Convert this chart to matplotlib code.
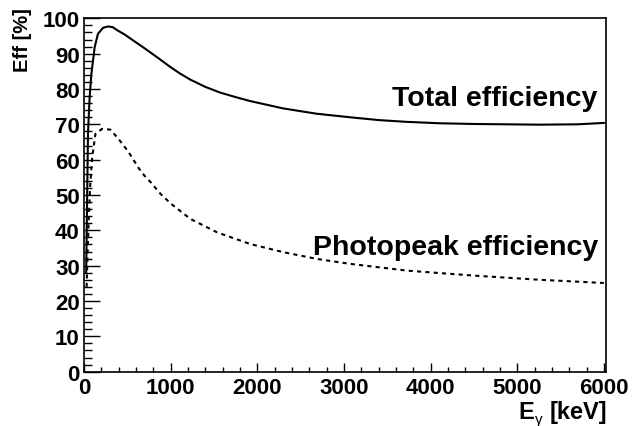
import numpy as np
import matplotlib
matplotlib.use("Agg")
import matplotlib.pyplot as plt
from matplotlib.ticker import MultipleLocator

plt.rcParams['font.family'] = ['Liberation Sans', 'DejaVu Sans']
plt.rcParams['font.weight'] = 'bold'

# energies (keV) and efficiencies (%)
total_e = [25, 46, 65, 85, 123, 161, 219, 277, 330, 392, 470, 546, 700, 854, 992,
           1100, 1223, 1400, 1569, 1750, 1915, 2299, 2684, 3068, 3400, 3722, 4100,
           4490, 5260, 5700, 6000]
total_eff = [28, 67.3, 77.6, 84.2, 91.8, 95.6, 97.3, 97.7, 97.5, 96.5, 95.4, 94.1,
             91.5, 88.8, 86.3, 84.5, 82.7, 80.6, 79.0, 77.7, 76.6, 74.5, 73.0, 72.0,
             71.2, 70.7, 70.3, 70.1, 69.9, 70.0, 70.4]

photo_e = [30, 50, 70, 93, 132, 208, 305, 401, 516, 631, 700, 770, 880, 1000, 1230,
           1538, 1922, 2305, 2690, 3074, 3727, 4494, 5263, 6000]
photo_eff = [24, 40, 52, 60.2, 67.3, 68.7, 68.5, 65.8, 62.1, 57.6, 55.4, 53.6,
             50.4, 47.6, 43.2, 39.4, 36.1, 33.8, 31.9, 30.5, 28.6, 27.2, 26.0, 25.1]

fig = plt.figure(figsize=(6.32, 4.27), dpi=100)
ax = fig.add_axes([0.1329, 0.1272, 0.8260, 0.8276])

ax.plot(total_e, total_eff, color="black", lw=1.5)
ax.plot(photo_e, photo_eff, color="black", lw=1.5, linestyle=(0, (2, 2)))

ax.set_xlim(0, 6025)
ax.set_ylim(0, 100)
ax.xaxis.set_major_locator(MultipleLocator(1000))
ax.xaxis.set_minor_locator(MultipleLocator(200))
ax.yaxis.set_major_locator(MultipleLocator(10))
ax.yaxis.set_minor_locator(MultipleLocator(2))

ax.tick_params(axis='x', which='major', direction='in', length=6.7, width=1, labelsize=16, pad=4)
ax.tick_params(axis='x', which='minor', direction='in', length=3.6, width=1)
ax.tick_params(axis='y', which='major', direction='in', length=11.5, width=1, labelsize=16, pad=3)
ax.tick_params(axis='y', which='minor', direction='in', length=5.8, width=1)
for lab in ax.get_xticklabels() + ax.get_yticklabels():
    lab.set_fontweight('bold')
for s in ax.spines.values():
    s.set_linewidth(1.2)

ax.text(5930, 75.5, "Total efficiency", ha="right", va="baseline", fontsize=20.5, fontweight="bold")
ax.text(5930, 33.3, "Photopeak efficiency", ha="right", va="baseline", fontsize=20.5, fontweight="bold")

fig.text(0.035, 0.98, "Eff [%]", rotation=90, ha="center", va="top", fontsize=14.5, fontweight="bold")

# x title: "E" with a small gamma subscript, then the unit, laid out right to left
W = 632.0
r = fig.canvas.get_renderer()
unit = fig.text(607 / W, 0.018, "[keV]", ha="right", va="baseline", fontsize=17, fontweight="bold")
ux0 = unit.get_window_extent(r).x0
gam = fig.text((ux0 - 7) / W, 0.008, "γ", ha="right", va="baseline", fontsize=11, fontweight="normal")
gx0 = gam.get_window_extent(r).x0
fig.text((gx0 - 0.5) / W, 0.018, "E", ha="right", va="baseline", fontsize=17, fontweight="bold")

fig.savefig("out.png", dpi=100)
